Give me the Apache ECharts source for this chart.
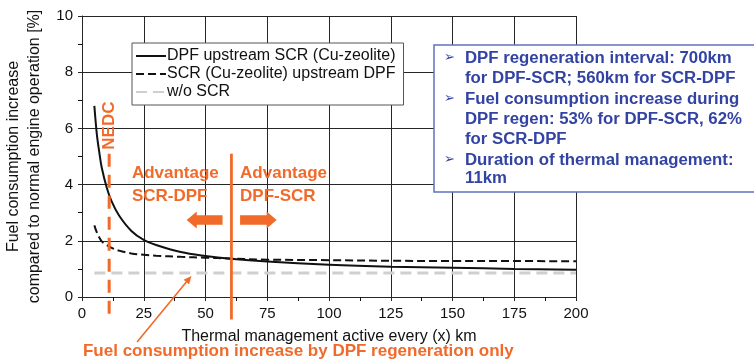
<!DOCTYPE html>
<html>
<head>
<meta charset="utf-8">
<script src="https://cdn.jsdelivr.net/npm/echarts@6/dist/echarts.min.js"></script>
<style>
  html, body { margin: 0; padding: 0; background: #fff; overflow: hidden; }
  #chart { width: 754px; height: 362px; }
  #probe { width: 754px; height: 362px; position: absolute; left: -2000px; top: 0; visibility: hidden; }
</style>
</head>
<body>
<div id="chart"></div>
<div id="probe"></div>
<script>
// Distance between thermal-management events (km)
const xKm = [5, 6, 7, 8, 10, 12, 15, 20, 25, 30, 40, 50, 60, 75, 100, 125, 150, 175, 200];
// Fuel consumption increase [%]
const dpfUpstreamScr = [6.8, 5.8, 5.15, 4.6, 3.9, 3.4, 2.9, 2.35, 2.03, 1.85, 1.6, 1.46, 1.36, 1.26, 1.15, 1.08, 1.04, 1.0, 0.97];
const scrUpstreamDpf = [2.55, 2.3, 2.12, 1.98, 1.85, 1.75, 1.65, 1.55, 1.5, 1.47, 1.43, 1.4, 1.37, 1.33, 1.31, 1.29, 1.28, 1.28, 1.27];
const noScrKm = [5, 200];
const noScrValue = [0.85, 0.85];

const seriesNames = ['DPF upstream SCR (Cu-zeolite)', 'SCR (Cu-zeolite) upstream DPF', 'w/o SCR'];
const xTicks = [0, 25, 50, 75, 100, 125, 150, 175, 200];
const yTicks = [0, 2, 4, 6, 8, 10];
const xMinorTicks = [12.5, 37.5, 62.5, 87.5, 112.5, 137.5, 162.5, 187.5];
const yMinorTicks = [1, 3, 5, 7, 9];

// Reference markers
const nedcKm = 11;
const breakEvenKm = 60.5;
const markerSpan = [5.1, -0.8];

const infoLines = [
  { bullet: true, text: 'DPF regeneration interval: 700km' },
  { bullet: false, text: 'for DPF-SCR; 560km for SCR-DPF' },
  { bullet: true, text: 'Fuel consumption increase during' },
  { bullet: false, text: 'DPF regen: 53% for DPF-SCR, 62%' },
  { bullet: false, text: 'for SCR-DPF' },
  { bullet: true, text: 'Duration of thermal management:' },
  { bullet: false, text: '11km' }
];

const ORANGE = '#f26a2a';
const BLUE = '#3343a3';
const GRID_COLOR = '#262626';
const FONT = '"Liberation Sans", Arial, sans-serif';

const zip = (xs, ys) => xs.map((x, i) => [x, ys[i]]);

function axisStyle() {
  return {
    axisLine: { show: true, lineStyle: { color: '#111', width: 1 } },
    axisTick: { show: true, inside: false, length: 4, lineStyle: { color: '#111', width: 1 } },
    minorTick: { show: true, splitNumber: 2, length: 4, lineStyle: { color: '#111', width: 1 } },
    splitLine: { show: true, lineStyle: { color: GRID_COLOR, width: 1 } }
  };
}

const option = {
  animation: false,
  grid: { left: 82, right: 178, top: 16, bottom: 65, outerBoundsMode: 'none' },
  legend: {
    data: seriesNames,
    orient: 'vertical',
    left: 132,
    top: 43,
    width: 272,
    padding: [5, 8, 5, 3],
    itemGap: 2,
    itemWidth: 30,
    itemHeight: 15.5,
    backgroundColor: '#fff',
    borderColor: '#555',
    borderWidth: 1,
    borderRadius: 0,
    itemStyle: { color: 'transparent', borderColor: 'transparent', borderWidth: 0 },
    textStyle: { fontFamily: FONT, fontSize: 16, color: '#111', padding: [0, 0, 0, -4] },
    selectedMode: false
  },
  xAxis: Object.assign({
    type: 'value',
    min: 0, max: 200, interval: 25,
    name: 'Thermal management active every (x) km',
    nameLocation: 'middle',
    nameGap: 32,
    nameTextStyle: { fontFamily: FONT, fontSize: 16, color: '#111' },
    axisLabel: {
      margin: 9, fontSize: 15, color: '#111', fontFamily: FONT,
      formatter: v => (xTicks.includes(v) ? String(v) : '')
    }
  }, axisStyle()),
  yAxis: Object.assign({
    type: 'value',
    min: 0, max: 10, interval: 2,
    name: 'Fuel consumption increase\ncompared to normal engine operation [%]',
    nameLocation: 'middle',
    nameGap: 36,
    nameRotate: 90,
    nameTextStyle: { fontFamily: FONT, fontSize: 16, color: '#111', lineHeight: 21 },
    axisLabel: {
      margin: 9, fontSize: 15, color: '#111', fontFamily: FONT,
      formatter: v => (yTicks.includes(v) ? String(v) : '')
    }
  }, axisStyle()),
  series: [
    {
      name: seriesNames[2],
      type: 'line',
      data: zip(noScrKm, noScrValue),
      symbol: 'none',
      color: '#cfcfcf',
      lineStyle: { color: '#cfcfcf', width: 3, type: [11, 6] },
      z: 2
    },
    {
      name: seriesNames[0],
      type: 'line',
      data: zip(xKm, dpfUpstreamScr),
      symbol: 'none',
      smooth: 0.35,
      color: '#111',
      lineStyle: { color: '#111', width: 2 },
      z: 4
    },
    {
      name: seriesNames[1],
      type: 'line',
      data: zip(xKm, scrUpstreamDpf),
      symbol: 'none',
      smooth: 0.35,
      color: '#111',
      lineStyle: { color: '#111', width: 2, type: [8, 4] },
      z: 3
    },
    {
      name: 'NEDC',
      type: 'line',
      data: [[nedcKm, markerSpan[0]], [nedcKm, markerSpan[1]]],
      symbol: 'none',
      clip: false,
      lineStyle: { color: ORANGE, width: 3, type: [13, 8] },
      z: 5
    },
    {
      name: 'break-even',
      type: 'line',
      data: [[breakEvenKm, markerSpan[0]], [breakEvenKm, markerSpan[1]]],
      symbol: 'none',
      clip: false,
      lineStyle: { color: ORANGE, width: 2.8 },
      z: 5
    }
  ]
};

// Resolve annotation positions on an off-screen instance of the same size
const probe = echarts.init(document.getElementById('probe'));
probe.setOption(option);
const px = (x, y) => probe.convertToPixel({ gridIndex: 0 }, [x, y]);
const advLeft = px(20.2, 3.98);
const advRight = px(64.0, 3.98);
const nedcPos = px(nedcKm, 6.1);
const pointerText = px(0.4, -1.95);
const leftArrow = [px(56.9, 2.74), px(42.4, 2.74)];
const rightArrow = [px(64.0, 2.74), px(78.8, 2.74)];
const pointer = [px(22.3, -1.6), px(44.3, 0.75)];
const origin = px(0, 0);
const corner = px(200, 10);
const xPix = xTicks.map(v => px(v, 0)[0]);
const yPix = yTicks.map(v => px(0, v)[1]);
const xMinorPix = xMinorTicks.map(v => px(v, 0)[0]);
const yMinorPix = yMinorTicks.map(v => px(0, v)[1]);
probe.dispose();

// Align 1px strokes to the pixel grid
function crisp(p) {
  const d = Math.round(p * 2);
  return d % 2 ? d / 2 : (d + 1) / 2;
}

// Block arrow outline from tail to tip
function arrowPoints(tail, tip, headLen, headHalf, shaftHalf) {
  const dx = tip[0] - tail[0], dy = tip[1] - tail[1];
  const len = Math.hypot(dx, dy);
  const ux = dx / len, uy = dy / len;
  const nx = -uy, ny = ux;
  const bx = tip[0] - ux * headLen, by = tip[1] - uy * headLen;
  return [
    [tail[0] + nx * shaftHalf, tail[1] + ny * shaftHalf],
    [bx + nx * shaftHalf, by + ny * shaftHalf],
    [bx + nx * headHalf, by + ny * headHalf],
    [tip[0], tip[1]],
    [bx - nx * headHalf, by - ny * headHalf],
    [bx - nx * shaftHalf, by - ny * shaftHalf],
    [tail[0] - nx * shaftHalf, tail[1] - ny * shaftHalf]
  ];
}

const orangeBold = { fontFamily: FONT, fontWeight: 'bold', fill: ORANGE };
const graphics = [];

// Grid lines and tick marks
xPix.forEach(x => {
  const cx = crisp(x);
  graphics.push({ type: 'line', shape: { x1: cx, y1: corner[1], x2: cx, y2: origin[1] + 4 }, style: { stroke: GRID_COLOR, lineWidth: 1 }, z: 1, silent: true });
});
yPix.forEach(y => {
  const cy = crisp(y);
  graphics.push({ type: 'line', shape: { x1: origin[0] - 4, y1: cy, x2: corner[0], y2: cy }, style: { stroke: GRID_COLOR, lineWidth: 1 }, z: 1, silent: true });
});
xMinorPix.forEach(x => {
  const cx = crisp(x);
  graphics.push({ type: 'line', shape: { x1: cx, y1: origin[1], x2: cx, y2: origin[1] + 4 }, style: { stroke: '#111', lineWidth: 1 }, z: 1, silent: true });
});
yMinorPix.forEach(y => {
  const cy = crisp(y);
  graphics.push({ type: 'line', shape: { x1: origin[0] - 4, y1: cy, x2: origin[0], y2: cy }, style: { stroke: '#111', lineWidth: 1 }, z: 1, silent: true });
});

// Advantage arrows and the pointer to the regeneration-only level
graphics.push(
  { type: 'polygon', shape: { points: arrowPoints(leftArrow[0], leftArrow[1], 10, 8.5, 4.7) }, style: { fill: ORANGE }, z: 10, silent: true },
  { type: 'polygon', shape: { points: arrowPoints(rightArrow[0], rightArrow[1], 10, 8.5, 4.7) }, style: { fill: ORANGE }, z: 10, silent: true },
  { type: 'polygon', shape: { points: arrowPoints(pointer[0], pointer[1], 8, 3.6, 0.8) }, style: { fill: ORANGE }, z: 10, silent: true }
);

graphics.push(
  {
    type: 'text', x: advLeft[0], y: advLeft[1],
    style: Object.assign({ text: 'Advantage\nSCR-DPF', fontSize: 17, lineHeight: 23, textAlign: 'left', textVerticalAlign: 'middle' }, orangeBold),
    z: 10
  },
  {
    type: 'text', x: advRight[0], y: advRight[1],
    style: Object.assign({ text: 'Advantage\nDPF-SCR', fontSize: 17, lineHeight: 23, textAlign: 'left', textVerticalAlign: 'middle' }, orangeBold),
    z: 10
  },
  {
    type: 'text', x: nedcPos[0], y: nedcPos[1], rotation: Math.PI / 2,
    style: Object.assign({ text: 'NEDC', fontSize: 17, textAlign: 'center', textVerticalAlign: 'middle' }, orangeBold),
    z: 10
  },
  {
    type: 'text', x: pointerText[0], y: pointerText[1],
    style: Object.assign({ text: 'Fuel consumption increase by DPF regeneration only', fontSize: 17, textAlign: 'left', textVerticalAlign: 'middle' }, orangeBold),
    z: 10
  },
  {
    type: 'rect',
    shape: { x: 434, y: 45, width: 330, height: 147 },
    style: { fill: '#fff', stroke: '#6272bd', lineWidth: 1.5 },
    z: 20
  }
);

const infoRowY = [58, 78, 99, 119, 139, 160, 178];
infoLines.forEach((line, i) => {
  if (line.bullet) {
    graphics.push({
      type: 'text', x: 444, y: infoRowY[i],
      style: { text: '➢', fontFamily: '"DejaVu Sans", sans-serif', fontSize: 13, fill: BLUE, textVerticalAlign: 'middle' },
      z: 21
    });
  }
  graphics.push({
    type: 'text', x: 465, y: infoRowY[i],
    style: { text: line.text, fontFamily: FONT, fontWeight: 'bold', fontSize: 16.8, fill: BLUE, textVerticalAlign: 'middle' },
    z: 21
  });
});

option.graphic = graphics;

const chart = echarts.init(document.getElementById('chart'));
chart.setOption(option);
</script>
</body>
</html>
